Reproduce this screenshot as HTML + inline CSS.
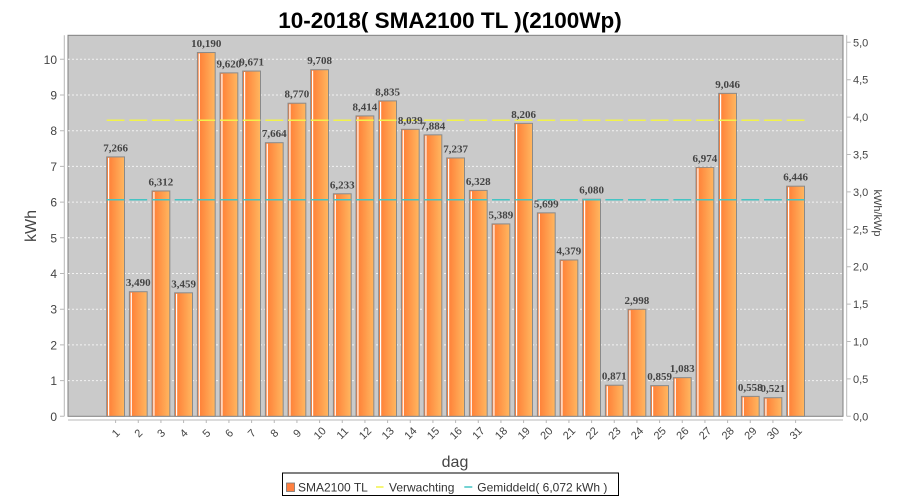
<!DOCTYPE html>
<html><head><meta charset="utf-8"><style>
html,body{margin:0;padding:0;background:#fff;}
svg{display:block;}
.t{font-family:"Liberation Sans",sans-serif;}
.bl{font-family:"Liberation Serif",serif;font-weight:bold;font-size:11px;fill:#444;text-anchor:middle;}
.yl{font-family:"Liberation Sans",sans-serif;font-size:12px;fill:#444;text-anchor:end;}
.yr{font-family:"Liberation Sans",sans-serif;font-size:11px;fill:#444;}
.xl{font-family:"Liberation Sans",sans-serif;font-size:11px;fill:#444;text-anchor:middle;}
</style></head><body>
<svg width="900" height="500" viewBox="0 0 900 500" xmlns="http://www.w3.org/2000/svg">
<defs>
<linearGradient id="g" x1="0" y1="0" x2="1" y2="0">
<stop offset="0" stop-color="#FF7A33"/>
<stop offset="1" stop-color="#FFB760"/>
</linearGradient>
</defs>
<rect width="900" height="500" fill="#fff"/>
<text x="450" y="28" text-anchor="middle" class="t" font-weight="bold" font-size="22.5" fill="#000">10-2018( SMA2100 TL )(2100Wp)</text>

<!-- plot area -->
<rect x="68" y="35.3" width="775" height="381" fill="#CACACA" stroke="#808080" stroke-width="1"/>
<g stroke="#f2f2f2" stroke-width="1" stroke-dasharray="2,2">
<line x1="68" x2="843" y1="59.3" y2="59.3"/>
<line x1="68" x2="843" y1="95" y2="95"/>
<line x1="68" x2="843" y1="130.7" y2="130.7"/>
<line x1="68" x2="843" y1="166.4" y2="166.4"/>
<line x1="68" x2="843" y1="202.1" y2="202.1"/>
<line x1="68" x2="843" y1="237.8" y2="237.8"/>
<line x1="68" x2="843" y1="273.5" y2="273.5"/>
<line x1="68" x2="843" y1="309.2" y2="309.2"/>
<line x1="68" x2="843" y1="344.9" y2="344.9"/>
<line x1="68" x2="843" y1="380.6" y2="380.6"/>
</g>

<!-- bars -->
<g fill="url(#g)" stroke="#8a8a8a" stroke-width="1">
<rect x="106.7" y="156.9" width="17.8" height="259.4"/>
<rect x="129.37" y="291.71" width="17.8" height="124.59"/>
<rect x="152.03" y="190.96" width="17.8" height="225.34"/>
<rect x="174.7" y="292.81" width="17.8" height="123.49"/>
<rect x="197.37" y="52.52" width="17.8" height="363.78"/>
<rect x="220.03" y="72.87" width="17.8" height="343.43"/>
<rect x="242.7" y="71.05" width="17.8" height="345.25"/>
<rect x="265.37" y="142.7" width="17.8" height="273.6"/>
<rect x="288.03" y="103.21" width="17.8" height="313.09"/>
<rect x="310.7" y="69.72" width="17.8" height="346.58"/>
<rect x="333.37" y="193.78" width="17.8" height="222.52"/>
<rect x="356.03" y="115.92" width="17.8" height="300.38"/>
<rect x="378.7" y="100.89" width="17.8" height="315.41"/>
<rect x="401.37" y="129.31" width="17.8" height="286.99"/>
<rect x="424.03" y="134.84" width="17.8" height="281.46"/>
<rect x="446.7" y="157.94" width="17.8" height="258.36"/>
<rect x="469.37" y="190.39" width="17.8" height="225.91"/>
<rect x="492.03" y="223.91" width="17.8" height="192.39"/>
<rect x="514.7" y="123.35" width="17.8" height="292.95"/>
<rect x="537.37" y="212.85" width="17.8" height="203.45"/>
<rect x="560.03" y="259.97" width="17.8" height="156.33"/>
<rect x="582.7" y="199.24" width="17.8" height="217.06"/>
<rect x="605.37" y="385.21" width="17.8" height="31.09"/>
<rect x="628.03" y="309.27" width="17.8" height="107.03"/>
<rect x="650.7" y="385.63" width="17.8" height="30.67"/>
<rect x="673.37" y="377.64" width="17.8" height="38.66"/>
<rect x="696.03" y="167.33" width="17.8" height="248.97"/>
<rect x="718.7" y="93.36" width="17.8" height="322.94"/>
<rect x="741.37" y="396.38" width="17.8" height="19.92"/>
<rect x="764.03" y="397.7" width="17.8" height="18.6"/>
<rect x="786.7" y="186.18" width="17.8" height="230.12"/>
</g>
<!-- white highlight stripes -->
<g stroke="#ffffff" stroke-width="1.2">
<line x1="108.6" x2="108.6" y1="157.9" y2="415.8"/>
<line x1="131.27" x2="131.27" y1="292.7" y2="415.8"/>
<line x1="153.93" x2="153.93" y1="192" y2="415.8"/>
<line x1="176.6" x2="176.6" y1="293.8" y2="415.8"/>
<line x1="199.27" x2="199.27" y1="53.5" y2="415.8"/>
<line x1="221.93" x2="221.93" y1="73.9" y2="415.8"/>
<line x1="244.6" x2="244.6" y1="72" y2="415.8"/>
<line x1="267.27" x2="267.27" y1="143.7" y2="415.8"/>
<line x1="289.93" x2="289.93" y1="104.2" y2="415.8"/>
<line x1="312.6" x2="312.6" y1="70.7" y2="415.8"/>
<line x1="335.27" x2="335.27" y1="194.8" y2="415.8"/>
<line x1="357.93" x2="357.93" y1="116.9" y2="415.8"/>
<line x1="380.6" x2="380.6" y1="101.9" y2="415.8"/>
<line x1="403.27" x2="403.27" y1="130.3" y2="415.8"/>
<line x1="425.93" x2="425.93" y1="135.8" y2="415.8"/>
<line x1="448.6" x2="448.6" y1="158.9" y2="415.8"/>
<line x1="471.27" x2="471.27" y1="191.4" y2="415.8"/>
<line x1="493.93" x2="493.93" y1="224.9" y2="415.8"/>
<line x1="516.6" x2="516.6" y1="124.3" y2="415.8"/>
<line x1="539.27" x2="539.27" y1="213.8" y2="415.8"/>
<line x1="561.93" x2="561.93" y1="261" y2="415.8"/>
<line x1="584.6" x2="584.6" y1="200.2" y2="415.8"/>
<line x1="607.27" x2="607.27" y1="386.2" y2="415.8"/>
<line x1="629.93" x2="629.93" y1="310.3" y2="415.8"/>
<line x1="652.6" x2="652.6" y1="386.6" y2="415.8"/>
<line x1="675.27" x2="675.27" y1="378.6" y2="415.8"/>
<line x1="697.93" x2="697.93" y1="168.3" y2="415.8"/>
<line x1="720.6" x2="720.6" y1="94.4" y2="415.8"/>
<line x1="743.27" x2="743.27" y1="397.4" y2="415.8"/>
<line x1="765.93" x2="765.93" y1="398.7" y2="415.8"/>
<line x1="788.6" x2="788.6" y1="187.2" y2="415.8"/>
</g>

<!-- level lines -->
<g stroke="#F2F24A" stroke-width="1.5">
<path d="M106.7 120.3h17.8M129.37 120.3h17.8M152.03 120.3h17.8M174.7 120.3h17.8M197.37 120.3h17.8M220.03 120.3h17.8M242.7 120.3h17.8M265.37 120.3h17.8M288.03 120.3h17.8M310.7 120.3h17.8M333.37 120.3h17.8M356.03 120.3h17.8M378.7 120.3h17.8M401.37 120.3h17.8M424.03 120.3h17.8M446.7 120.3h17.8M469.37 120.3h17.8M492.03 120.3h17.8M514.7 120.3h17.8M537.37 120.3h17.8M560.03 120.3h17.8M582.7 120.3h17.8M605.37 120.3h17.8M628.03 120.3h17.8M650.7 120.3h17.8M673.37 120.3h17.8M696.03 120.3h17.8M718.7 120.3h17.8M741.37 120.3h17.8M764.03 120.3h17.8M786.7 120.3h17.8"/>
</g>
<g stroke="#45C4C4" stroke-width="1.5">
<path d="M106.7 199.7h17.8M129.37 199.7h17.8M152.03 199.7h17.8M174.7 199.7h17.8M197.37 199.7h17.8M220.03 199.7h17.8M242.7 199.7h17.8M265.37 199.7h17.8M288.03 199.7h17.8M310.7 199.7h17.8M333.37 199.7h17.8M356.03 199.7h17.8M378.7 199.7h17.8M401.37 199.7h17.8M424.03 199.7h17.8M446.7 199.7h17.8M469.37 199.7h17.8M492.03 199.7h17.8M514.7 199.7h17.8M537.37 199.7h17.8M560.03 199.7h17.8M582.7 199.7h17.8M605.37 199.7h17.8M628.03 199.7h17.8M650.7 199.7h17.8M673.37 199.7h17.8M696.03 199.7h17.8M718.7 199.7h17.8M741.37 199.7h17.8M764.03 199.7h17.8M786.7 199.7h17.8"/>
</g>

<!-- bar labels -->
<text class="bl" x="115.6" y="151.4">7,266</text>
<text class="bl" x="138.27" y="286.2">3,490</text>
<text class="bl" x="160.93" y="185.5">6,312</text>
<text class="bl" x="183.6" y="287.3">3,459</text>
<text class="bl" x="206.27" y="47">10,190</text>
<text class="bl" x="228.93" y="67.4">9,620</text>
<text class="bl" x="251.6" y="65.5">9,671</text>
<text class="bl" x="274.27" y="137.2">7,664</text>
<text class="bl" x="296.93" y="97.7">8,770</text>
<text class="bl" x="319.6" y="64.2">9,708</text>
<text class="bl" x="342.27" y="188.3">6,233</text>
<text class="bl" x="364.93" y="110.4">8,414</text>
<text class="bl" x="387.6" y="95.4">8,835</text>
<text class="bl" x="410.27" y="123.8">8,039</text>
<text class="bl" x="432.93" y="129.3">7,884</text>
<text class="bl" x="455.6" y="152.4">7,237</text>
<text class="bl" x="478.27" y="184.9">6,328</text>
<text class="bl" x="500.93" y="218.4">5,389</text>
<text class="bl" x="523.6" y="117.8">8,206</text>
<text class="bl" x="546.27" y="207.3">5,699</text>
<text class="bl" x="568.93" y="254.5">4,379</text>
<text class="bl" x="591.6" y="193.7">6,080</text>
<text class="bl" x="614.27" y="379.7">0,871</text>
<text class="bl" x="636.93" y="303.8">2,998</text>
<text class="bl" x="659.6" y="380.1">0,859</text>
<text class="bl" x="682.27" y="372.1">1,083</text>
<text class="bl" x="704.93" y="161.8">6,974</text>
<text class="bl" x="727.6" y="87.9">9,046</text>
<text class="bl" x="750.27" y="390.9">0,558</text>
<text class="bl" x="772.93" y="392.2">0,521</text>
<text class="bl" x="795.6" y="180.7">6,446</text>

<!-- left axis -->
<line x1="64.3" x2="64.3" y1="35.3" y2="416.3" stroke="#b8b8b8" stroke-width="1"/>
<g stroke="#b8b8b8" stroke-width="1">
<path d="M60 416.3h4.3M60 380.6h4.3M60 344.9h4.3M60 309.2h4.3M60 273.5h4.3M60 237.8h4.3M60 202.1h4.3M60 166.4h4.3M60 130.7h4.3M60 95h4.3M60 59.3h4.3"/>
</g>
<text class="yl" x="57" y="420.8">0</text>
<text class="yl" x="57" y="385.1">1</text>
<text class="yl" x="57" y="349.4">2</text>
<text class="yl" x="57" y="313.7">3</text>
<text class="yl" x="57" y="278">4</text>
<text class="yl" x="57" y="242.3">5</text>
<text class="yl" x="57" y="206.6">6</text>
<text class="yl" x="57" y="170.9">7</text>
<text class="yl" x="57" y="135.2">8</text>
<text class="yl" x="57" y="99.5">9</text>
<text class="yl" x="57" y="63.8">10</text>
<text x="36" y="226" transform="rotate(-90 36 226)" text-anchor="middle" class="t" font-size="16" fill="#444">kWh</text>

<!-- right axis -->
<line x1="846.7" x2="846.7" y1="35.3" y2="416.3" stroke="#b8b8b8" stroke-width="1"/>
<g stroke="#b8b8b8" stroke-width="1">
<path d="M846.7 416.3h4M846.7 378.9h4M846.7 341.5h4M846.7 304.1h4M846.7 266.7h4M846.7 229.3h4M846.7 191.9h4M846.7 154.5h4M846.7 117.1h4M846.7 79.7h4M846.7 42.3h4"/>
</g>
<text class="yr" x="853" y="420.3">0,0</text>
<text class="yr" x="853" y="382.9">0,5</text>
<text class="yr" x="853" y="345.5">1,0</text>
<text class="yr" x="853" y="308.1">1,5</text>
<text class="yr" x="853" y="270.7">2,0</text>
<text class="yr" x="853" y="233.3">2,5</text>
<text class="yr" x="853" y="195.9">3,0</text>
<text class="yr" x="853" y="158.5">3,5</text>
<text class="yr" x="853" y="121.1">4,0</text>
<text class="yr" x="853" y="83.7">4,5</text>
<text class="yr" x="853" y="46.3">5,0</text>
<text x="874" y="213" transform="rotate(90 874 213)" text-anchor="middle" class="t" font-size="11" fill="#444">kWh/kWp</text>

<!-- x axis -->
<line x1="68" x2="843" y1="420" y2="420" stroke="#b8b8b8" stroke-width="1"/>
<g stroke="#b8b8b8" stroke-width="1">
<path d="M115.6 420v3M138.27 420v3M160.93 420v3M183.6 420v3M206.27 420v3M228.93 420v3M251.6 420v3M274.27 420v3M296.93 420v3M319.6 420v3M342.27 420v3M364.93 420v3M387.6 420v3M410.27 420v3M432.93 420v3M455.6 420v3M478.27 420v3M500.93 420v3M523.6 420v3M546.27 420v3M568.93 420v3M591.6 420v3M614.27 420v3M636.93 420v3M659.6 420v3M682.27 420v3M704.93 420v3M727.6 420v3M750.27 420v3M772.93 420v3M795.6 420v3"/>
</g>
<g class="xl">
<text x="115.6" y="437" transform="rotate(-45 115.6 433)">1</text>
<text x="138.27" y="437" transform="rotate(-45 138.27 433)">2</text>
<text x="160.93" y="437" transform="rotate(-45 160.93 433)">3</text>
<text x="183.6" y="437" transform="rotate(-45 183.6 433)">4</text>
<text x="206.27" y="437" transform="rotate(-45 206.27 433)">5</text>
<text x="228.93" y="437" transform="rotate(-45 228.93 433)">6</text>
<text x="251.6" y="437" transform="rotate(-45 251.6 433)">7</text>
<text x="274.27" y="437" transform="rotate(-45 274.27 433)">8</text>
<text x="296.93" y="437" transform="rotate(-45 296.93 433)">9</text>
<text x="319.6" y="437" transform="rotate(-45 319.6 433)">10</text>
<text x="342.27" y="437" transform="rotate(-45 342.27 433)">11</text>
<text x="364.93" y="437" transform="rotate(-45 364.93 433)">12</text>
<text x="387.6" y="437" transform="rotate(-45 387.6 433)">13</text>
<text x="410.27" y="437" transform="rotate(-45 410.27 433)">14</text>
<text x="432.93" y="437" transform="rotate(-45 432.93 433)">15</text>
<text x="455.6" y="437" transform="rotate(-45 455.6 433)">16</text>
<text x="478.27" y="437" transform="rotate(-45 478.27 433)">17</text>
<text x="500.93" y="437" transform="rotate(-45 500.93 433)">18</text>
<text x="523.6" y="437" transform="rotate(-45 523.6 433)">19</text>
<text x="546.27" y="437" transform="rotate(-45 546.27 433)">20</text>
<text x="568.93" y="437" transform="rotate(-45 568.93 433)">21</text>
<text x="591.6" y="437" transform="rotate(-45 591.6 433)">22</text>
<text x="614.27" y="437" transform="rotate(-45 614.27 433)">23</text>
<text x="636.93" y="437" transform="rotate(-45 636.93 433)">24</text>
<text x="659.6" y="437" transform="rotate(-45 659.6 433)">25</text>
<text x="682.27" y="437" transform="rotate(-45 682.27 433)">26</text>
<text x="704.93" y="437" transform="rotate(-45 704.93 433)">27</text>
<text x="727.6" y="437" transform="rotate(-45 727.6 433)">28</text>
<text x="750.27" y="437" transform="rotate(-45 750.27 433)">29</text>
<text x="772.93" y="437" transform="rotate(-45 772.93 433)">30</text>
<text x="795.6" y="437" transform="rotate(-45 795.6 433)">31</text>
</g>
<text x="455" y="467" text-anchor="middle" class="t" font-size="16" fill="#444">dag</text>

<!-- legend -->
<rect x="282.5" y="473" width="336" height="22.5" fill="#fff" stroke="#000" stroke-width="1"/>
<rect x="286.5" y="483" width="8" height="8.5" fill="#FF8040" stroke="#777" stroke-width="0.8"/>
<text x="298" y="491.5" class="t" font-size="12" fill="#333">SMA2100 TL</text>
<line x1="376" x2="383.5" y1="487" y2="487" stroke="#F2F24A" stroke-width="1.5"/>
<text x="389" y="491.5" class="t" font-size="12" fill="#333">Verwachting</text>
<line x1="464.3" x2="472.3" y1="487" y2="487" stroke="#45C4C4" stroke-width="1.5"/>
<text x="477.3" y="491.5" class="t" font-size="12" fill="#333">Gemiddeld( 6,072 kWh )</text>
</svg>
</body></html>
